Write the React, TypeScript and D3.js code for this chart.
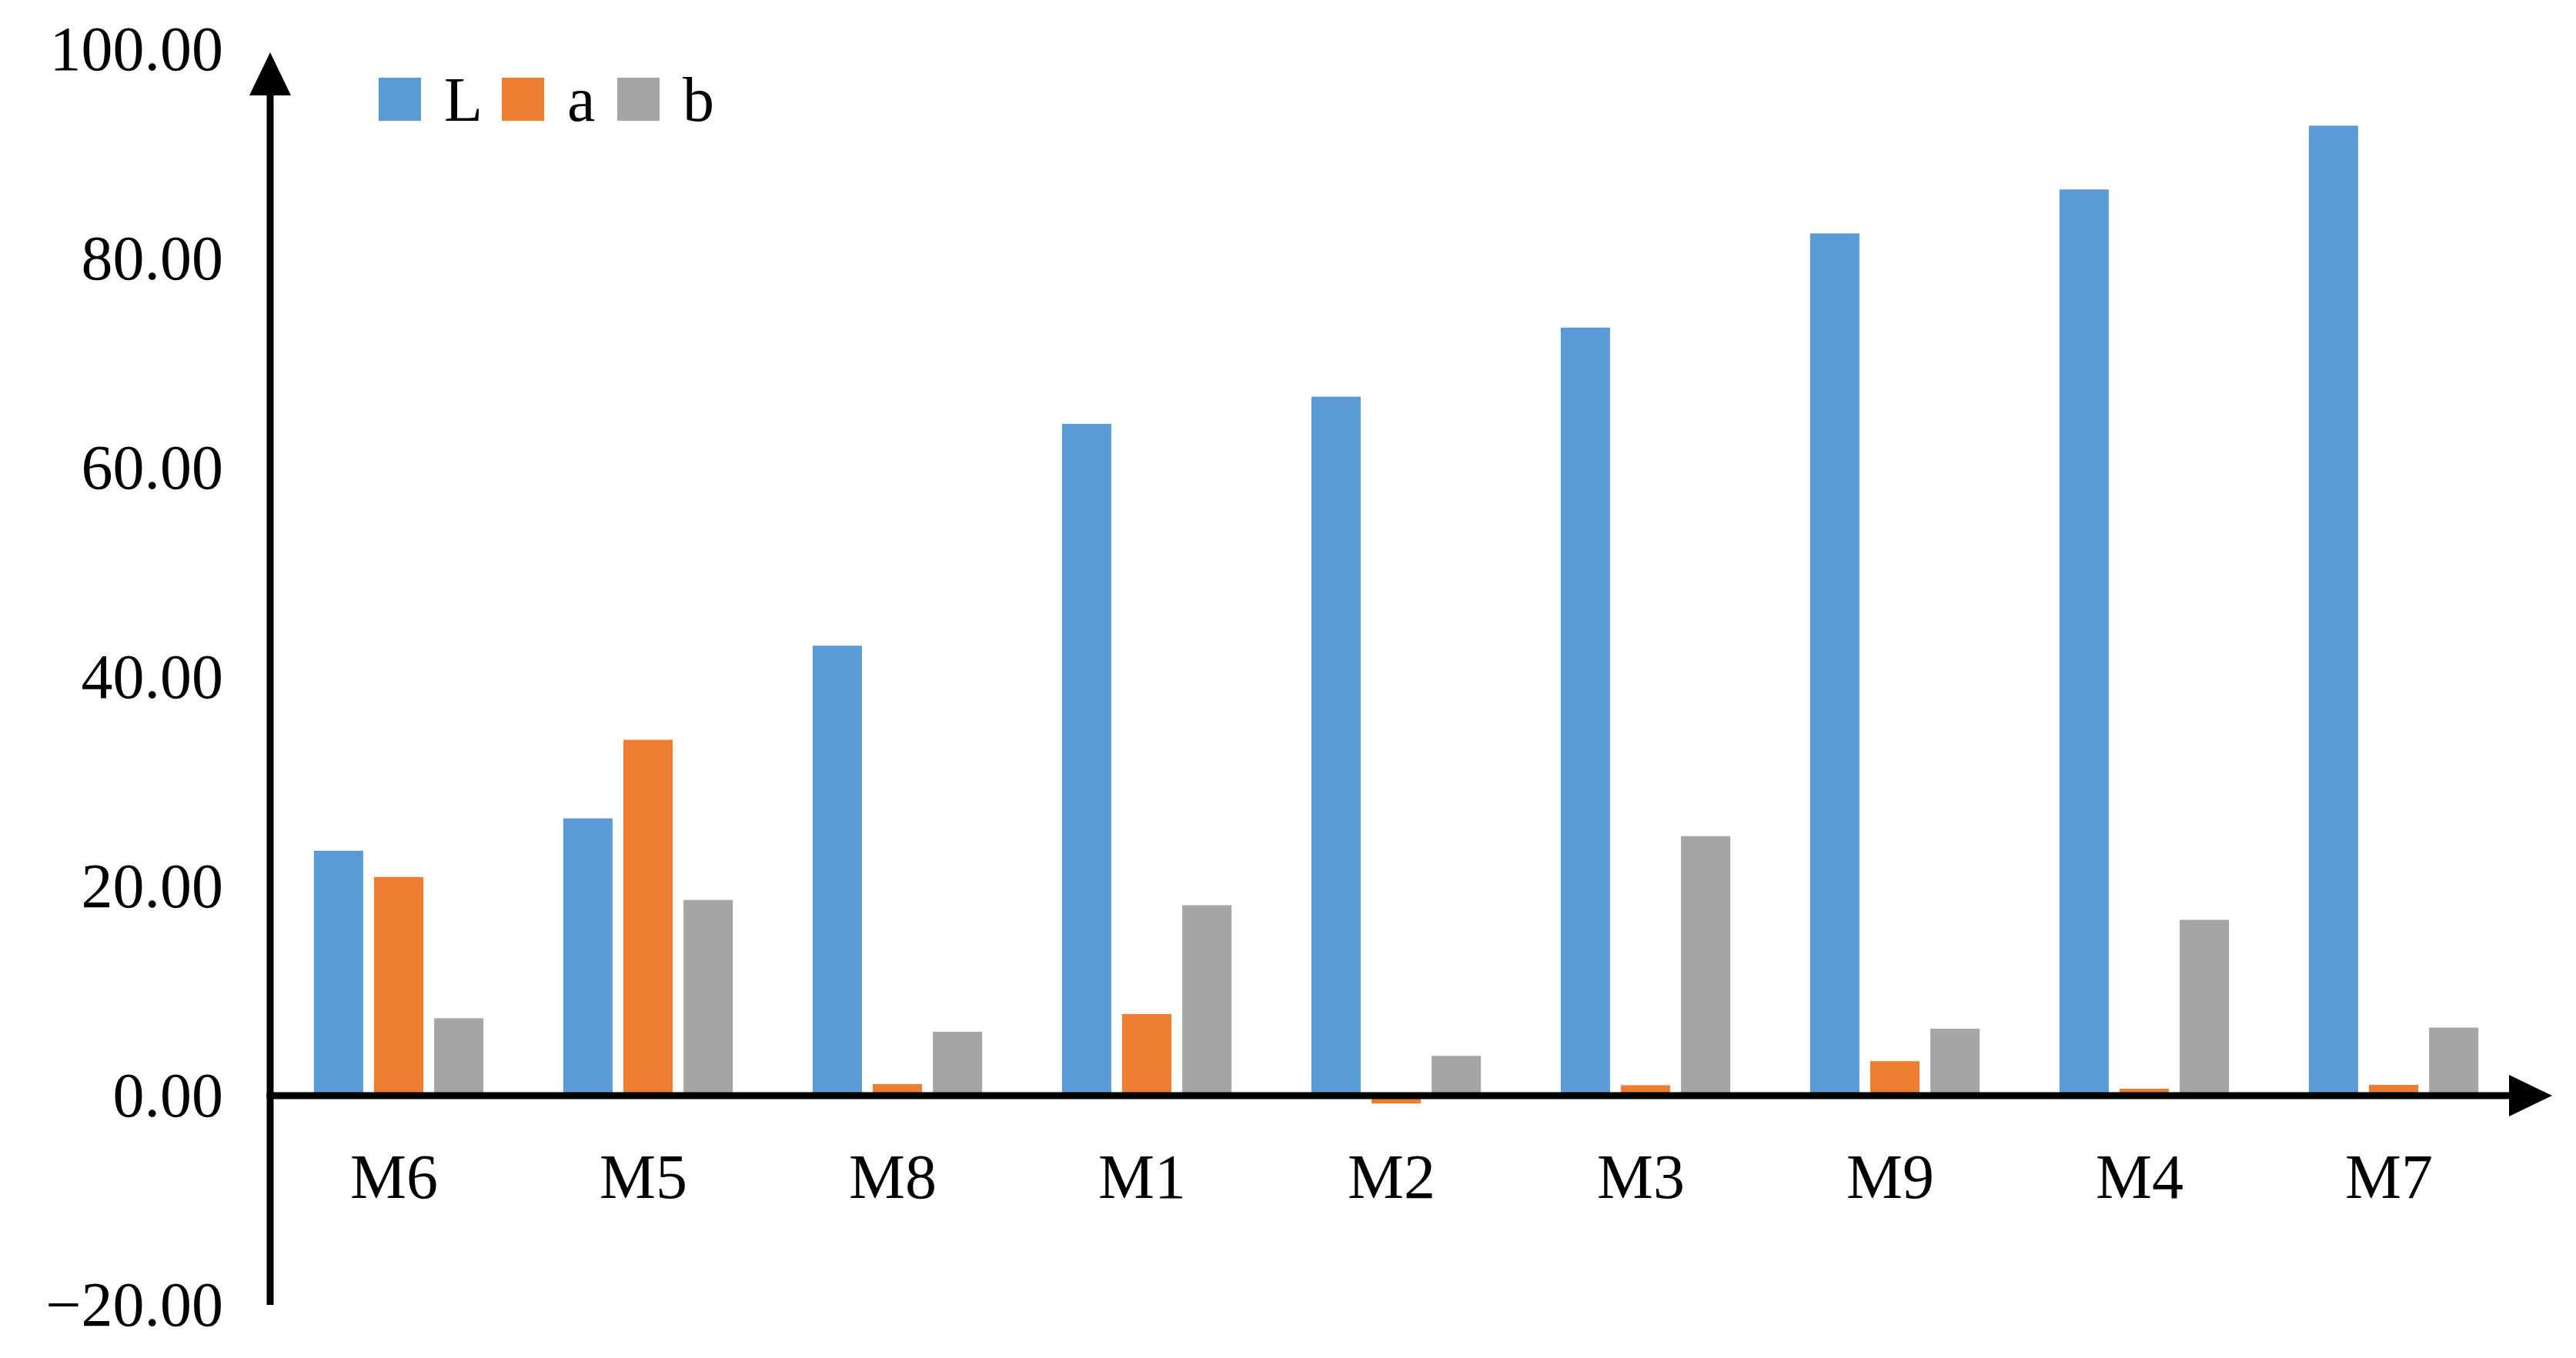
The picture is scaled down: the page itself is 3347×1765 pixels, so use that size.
import React from "react";
import * as d3 from "d3";

const categories = ["M6", "M5", "M8", "M1", "M2", "M3", "M9", "M4", "M7"];
const seriesKeys = ["L", "a", "b"];
const valuesL = [23.4, 26.5, 43.0, 64.2, 66.8, 73.4, 82.4, 86.6, 92.7];
const valuesA = [20.9, 34.0, 1.1, 7.8, -0.75, 1.0, 3.3, 0.66, 1.03];
const valuesB = [7.4, 18.7, 6.1, 18.2, 3.8, 24.8, 6.4, 16.8, 6.5];
const yTicks = [-20, 0, 20, 40, 60, 80, 100];
const colors = ["#5B9BD5", "#ED7D31", "#A5A5A5"];

const W = 3347;
const H = 1765;
const FONT = "'Liberation Serif', 'Times New Roman', serif";
const FS = 82;

export default function App() {
  const series = [valuesL, valuesA, valuesB];
  const axisX = 351;
  const y = d3.scaleLinear().domain([-20, 100]).range([1696, 64]);
  const x0 = d3
    .scaleBand<string>()
    .domain(categories)
    .range([356, 3272])
    .paddingInner(0.32)
    .paddingOuter(0.16);
  const x1 = d3
    .scaleBand<string>()
    .domain(seriesKeys)
    .range([0, x0.bandwidth()])
    .paddingInner(0.18);
  const y0 = y(0);
  const xArrowTip = 3316;
  const arrowLen = 56;
  const arrowHalf = 27;
  const yArrowTip = 68;
  const legendX = [492, 652, 802];

  return (
    <svg
      width={W}
      height={H}
      style={{ position: "absolute", left: 0, top: 0, background: "#fff" }}
      fontFamily={FONT}
    >
      <rect x={0} y={0} width={W} height={H} fill="#fff" />
      {categories.map((c, i) => (
        <g key={c} transform={`translate(${x0(c)},0)`}>
          {seriesKeys.map((k, j) => {
            const v = series[j][i];
            return (
              <rect
                key={k}
                x={x1(k)}
                y={Math.min(y(v), y0)}
                width={x1.bandwidth()}
                height={Math.abs(y(v) - y0)}
                fill={colors[j]}
              />
            );
          })}
        </g>
      ))}
      {/* x axis */}
      <line x1={axisX - 4.5} x2={xArrowTip - arrowLen + 2} y1={y0} y2={y0} stroke="#000" strokeWidth={9} />
      <path
        d={`M${xArrowTip},${y0} L${xArrowTip - arrowLen},${y0 - arrowHalf} L${xArrowTip - arrowLen},${y0 + arrowHalf} Z`}
        fill="#000"
      />
      {/* y axis */}
      <line x1={axisX} x2={axisX} y1={y(-20)} y2={yArrowTip + arrowLen - 2} stroke="#000" strokeWidth={9} />
      <path
        d={`M${axisX},${yArrowTip} L${axisX - arrowHalf},${yArrowTip + arrowLen} L${axisX + arrowHalf},${yArrowTip + arrowLen} Z`}
        fill="#000"
      />
      {yTicks.map((t) => (
        <text
          key={t}
          x={290}
          y={y(t)}
          dy="0.33em"
          textAnchor="end"
          fontSize={FS}
          fill="#000"
        >
          {(t < 0 ? "\u2212" : "") + Math.abs(t).toFixed(2)}
        </text>
      ))}
      {categories.map((c) => (
        <text
          key={c}
          x={(x0(c) as number) + x0.bandwidth() / 2 - 6}
          y={1557}
          textAnchor="middle"
          fontSize={FS}
          fill="#000"
        >
          {c}
        </text>
      ))}
      {seriesKeys.map((k, j) => (
        <g key={k} transform={`translate(${legendX[j]},101)`}>
          <rect x={0} y={0} width={55} height={56} fill={colors[j]} />
          <text x={85} y={56} fontSize={FS} fill="#000">
            {k}
          </text>
        </g>
      ))}
    </svg>
  );
}
